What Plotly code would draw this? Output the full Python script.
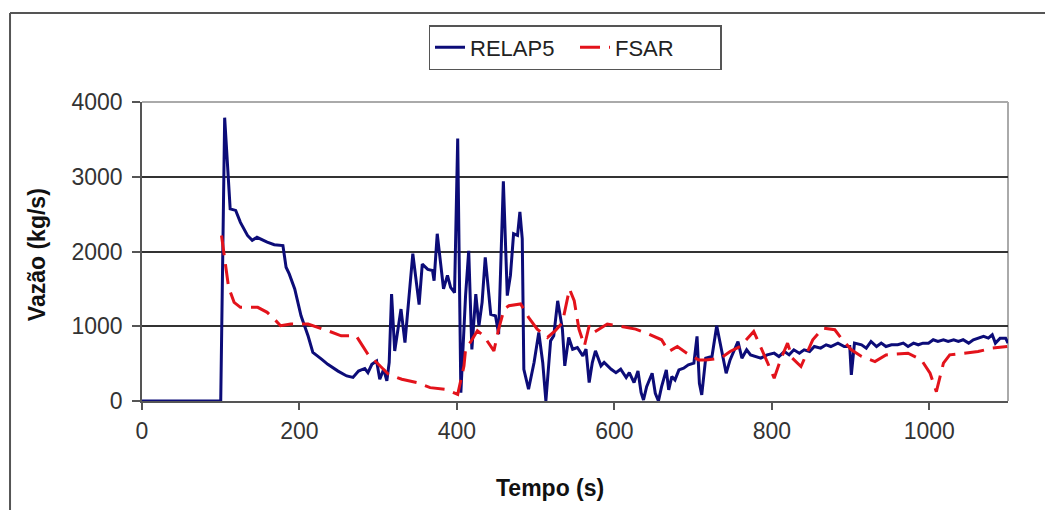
import plotly.graph_objects as go

# RELAP5 series (time s, flow kg/s)
relap_t = [0, 100, 105, 112, 119, 125, 134, 140, 146, 153, 159, 168, 179, 183, 187, 194, 202, 211, 217, 228,
           236, 249, 260, 268, 275, 283, 287, 292, 298, 302, 307, 311, 314, 317, 321, 329, 334, 344, 352, 356,
           363, 369, 371, 375, 380, 383, 388, 392, 397, 401, 405, 411, 415, 419, 424, 428, 432, 436, 443, 449,
           453, 459, 464, 468, 472, 477, 480, 483, 485, 491, 498, 504, 509, 513, 519, 523, 528, 534, 537, 542,
           547, 553, 560, 564, 568, 572, 576, 583, 587, 596, 602, 608, 615, 619, 625, 630, 634, 637, 641, 648,
           652, 656, 660, 666, 669, 673, 677, 682, 688, 694, 701, 705, 708, 711, 716, 724, 730, 735, 742, 747,
           752, 757, 762, 768, 773, 780, 786, 794, 803, 809, 816, 822, 828, 835, 841, 848, 854, 862, 869, 875,
           884, 892, 899, 901, 905, 914, 920, 926, 933, 939, 945, 952, 960, 967, 973, 980, 986, 992, 999, 1005,
           1011, 1018, 1024, 1031, 1037, 1043, 1050, 1056, 1062, 1069, 1075, 1080, 1084, 1090, 1097, 1100]
relap_v = [0, 0, 3790, 2570, 2550, 2390, 2215, 2150, 2190, 2150, 2125, 2090, 2080, 1790, 1700, 1500, 1140, 870, 650, 560,
           490, 400, 335, 315, 400, 435, 380, 490, 535, 290, 425, 270, 515, 1430, 670, 1230, 780, 1970, 1290, 1830,
           1760, 1745, 1610, 2237, 1770, 1500, 1680, 1520, 1450, 3510, 110, 1410, 2010, 690, 1430, 1005, 1320, 1920, 1160, 1140,
           895, 2940, 1410, 1680, 2237, 2215, 2530, 2170, 425, 157, 515, 917, 515, 0, 805, 872, 1340, 960, 470, 850,
           693, 716, 604, 693, 246, 515, 671, 470, 515, 425, 380, 425, 313, 380, 246, 403, 112, 13, 192, 371,
           103, 0, 192, 416, 148, 327, 282, 416, 438, 483, 506, 864, 237, 81, 573, 595, 1007, 729, 371, 550,
           685, 796, 573, 685, 617, 595, 573, 617, 640, 595, 662, 617, 685, 640, 685, 662, 729, 707, 752, 729,
           774, 729, 729, 349, 774, 752, 707, 796, 729, 774, 729, 752, 752, 774, 729, 774, 752, 774, 774, 819,
           796, 819, 796, 819, 796, 819, 774, 819, 841, 864, 841, 886, 774, 841, 841, 774]

# FSAR series (time s, flow kg/s)
fsar_t = [101, 106, 110, 117, 125, 147, 159, 168, 176, 189, 211, 236, 253, 272, 287, 298, 313, 330, 349, 366,
          385, 401, 409, 411, 417, 426, 434, 447, 453, 460, 466, 481, 491, 502, 515, 525, 534, 543, 549, 555,
          562, 568, 574, 591, 613, 627, 641, 652, 660, 669, 680, 692, 707, 716, 735, 747, 760, 777, 784, 794,
          803, 811, 820, 826, 837, 852, 865, 880, 888, 901, 914, 931, 945, 973, 990, 1001, 1009, 1018, 1026, 1045,
          1062, 1080, 1099]
fsar_v = [2215, 1810, 1520, 1320, 1253, 1253, 1186, 1096, 1007, 1029, 1029, 940, 872, 872, 626, 515, 358, 291, 246, 179,
          157, 89, 470, 693, 783, 940, 872, 671, 962, 1230, 1275, 1298, 1119, 962, 850, 940, 1051, 1499, 1342, 962,
          738, 1007, 917, 1029, 984, 962, 908, 860, 819, 662, 729, 640, 550, 550, 573, 662, 729, 930, 774, 528,
          304, 550, 774, 573, 461, 819, 975, 953, 841, 685, 595, 528, 617, 640, 550, 371, 125, 506, 617, 640,
          662, 707, 729]

x_ticks = [0, 200, 400, 600, 800, 1000]
y_ticks = [0, 1000, 2000, 3000, 4000]

FONT = "Liberation Sans, Arial, sans-serif"

fig = go.Figure()
fig.add_trace(go.Scatter(x=relap_t, y=relap_v, mode="lines", name="RELAP5",
                         line=dict(color="#0c0c78", width=3)))
fig.add_trace(go.Scatter(x=fsar_t, y=fsar_v, mode="lines", name="FSAR",
                         line=dict(color="#e3131b", width=3, dash="20px,9px")))

fig.update_layout(
    width=1045, height=510,
    margin=dict(l=142, r=37, t=102, b=109),
    paper_bgcolor="white", plot_bgcolor="white",
    font=dict(family=FONT, size=23, color="#222"),
    showlegend=True,
    legend=dict(orientation="h", x=0.5, xanchor="center", y=1.2575, yanchor="top",
                bordercolor="#555", borderwidth=1.5, bgcolor="white",
                font=dict(family=FONT, size=22, color="#222"),
                entrywidth=100, itemwidth=30, tracegroupgap=0),
    xaxis=dict(range=[0, 1100], tickvals=x_ticks, ticks="outside", ticklen=7, tickwidth=1.5,
               tickcolor="#555", showline=True, linecolor="#555", linewidth=1.5,
               showgrid=False, zeroline=False, ticklabelstandoff=2,
               tickfont=dict(family=FONT, size=23, color="#333")),
    yaxis=dict(range=[0, 4000], tickvals=y_ticks, ticks="outside", ticklen=8, tickwidth=1.5,
               tickcolor="#555", showline=True, linecolor="#555", linewidth=1.5,
               showgrid=True, gridcolor="#333", gridwidth=1.5, zeroline=False,
               ticklabelstandoff=5,
               tickfont=dict(family=FONT, size=23, color="#333")),
    shapes=[
        # plot area top/right border
        dict(type="line", xref="paper", yref="paper", x0=0, x1=1, y0=1, y1=1,
             line=dict(color="#aaa", width=2), layer="above"),
        dict(type="line", xref="paper", yref="paper", x0=1, x1=1, y0=0, y1=1,
             line=dict(color="#aaa", width=2), layer="below"),
        # outer chart frame (extends past the image to right/bottom)
        dict(type="line", xref="paper", yref="paper", x0=-0.1524, x1=1.1, y0=1.2977, y1=1.2977,
             line=dict(color="#555", width=2)),
        dict(type="line", xref="paper", yref="paper", x0=-0.1524, x1=-0.1524, y0=1.2977, y1=-0.45,
             line=dict(color="#555", width=2)),
    ],
    annotations=[
        dict(text="<b>Tempo (s)</b>", xref="paper", yref="paper", x=0.471, y=-0.291,
             showarrow=False, xanchor="center", yanchor="middle",
             font=dict(family=FONT, size=23, color="#111")),
        dict(text="<b>Vazão (kg/s)</b>", xref="paper", yref="paper", x=-0.1212, y=0.488,
             showarrow=False, xanchor="center", yanchor="middle", textangle=-90,
             font=dict(family=FONT, size=23, color="#111")),
    ],
)

fig.write_html("out.html")
